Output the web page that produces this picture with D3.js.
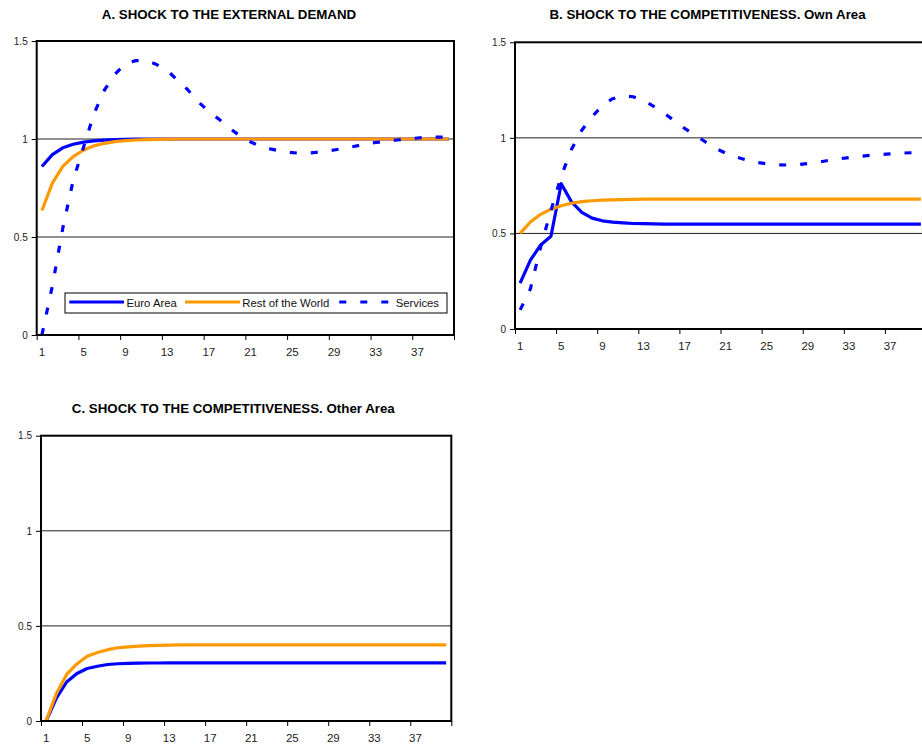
<!DOCTYPE html>
<html>
<head>
<meta charset="utf-8">
<script src="https://cdn.jsdelivr.net/npm/d3@7"></script>
<style>
  body { margin: 0; background: #fff; }
  svg { display: block; font-family: "Liberation Sans", Arial, sans-serif; }
</style>
</head>
<body>
<svg id="chart" width="922" height="747"></svg>
<script>
// periods on the category axis
const periods = d3.range(1, 41);
const xTickLabels = [1, 5, 9, 13, 17, 21, 25, 29, 33, 37];
const yTicks = [0, 0.5, 1, 1.5];

const seriesNames = ["Euro Area", "Rest of the World", "Services"];

// A. shock to the external demand
const aEuro = [0.86, 0.92, 0.955, 0.973, 0.984, 0.990, 0.994, 0.997, 0.998, 0.999,
  1, 1, 1, 1, 1, 1, 1, 1, 1, 1,
  1, 1, 1, 1, 1, 1, 1, 1, 1, 1,
  1, 1, 1, 1, 1, 1, 1, 1, 1, 1];
const aRow = [0.635, 0.775, 0.86, 0.91, 0.944, 0.965, 0.978, 0.987, 0.992, 0.995,
  0.997, 0.998, 0.999, 1, 1, 1, 1, 1, 1, 1,
  1, 1, 1, 1, 1, 1, 1, 1, 1, 1,
  1, 1, 1, 1, 1, 1, 1, 1, 1, 1];
const aServices = [0, 0.25, 0.545, 0.79, 0.96, 1.13, 1.25, 1.33, 1.385, 1.40,
  1.40, 1.38, 1.35, 1.30, 1.25, 1.19, 1.14, 1.10, 1.055, 1.015,
  0.985, 0.962, 0.948, 0.938, 0.93, 0.927, 0.93, 0.936, 0.944, 0.953,
  0.963, 0.974, 0.982, 0.988, 0.995, 1.0, 1.005, 1.009, 1.01, 1.008];

// B. shock to the competitiveness, own area
const bEuro = [0.24, 0.36, 0.44, 0.485, 0.76, 0.665, 0.61, 0.58, 0.566, 0.559,
  0.555, 0.552, 0.551, 0.55, 0.549, 0.549, 0.549, 0.549, 0.549, 0.549,
  0.549, 0.549, 0.549, 0.549, 0.549, 0.549, 0.549, 0.549, 0.549, 0.549,
  0.549, 0.549, 0.549, 0.549, 0.549, 0.549, 0.549, 0.549, 0.549, 0.549];
const bRow = [0.5, 0.56, 0.6, 0.627, 0.645, 0.658, 0.666, 0.671, 0.674, 0.676,
  0.677, 0.678, 0.679, 0.679, 0.679, 0.679, 0.679, 0.679, 0.679, 0.679,
  0.679, 0.679, 0.679, 0.679, 0.679, 0.679, 0.679, 0.679, 0.679, 0.679,
  0.679, 0.679, 0.679, 0.679, 0.679, 0.679, 0.679, 0.679, 0.679, 0.679];
const bServices = [0.1, 0.21, 0.43, 0.62, 0.80, 0.94, 1.04, 1.11, 1.17, 1.205,
  1.22, 1.215, 1.195, 1.165, 1.13, 1.09, 1.05, 1.015, 0.98, 0.946,
  0.92, 0.90, 0.885, 0.872, 0.864, 0.859, 0.858, 0.86, 0.866, 0.872,
  0.882, 0.89, 0.897, 0.903, 0.908, 0.912, 0.916, 0.92, 0.922, 0.924];

// C. shock to the competitiveness, other area
const cEuro = [0, 0.12, 0.205, 0.25, 0.276, 0.288, 0.297, 0.301, 0.303, 0.304,
  0.305, 0.305, 0.306, 0.306, 0.306, 0.306, 0.306, 0.306, 0.306, 0.306,
  0.306, 0.306, 0.306, 0.306, 0.306, 0.306, 0.306, 0.306, 0.306, 0.306,
  0.306, 0.306, 0.306, 0.306, 0.306, 0.306, 0.306, 0.306, 0.306, 0.306];
const cRow = [0, 0.145, 0.245, 0.30, 0.34, 0.36, 0.375, 0.385, 0.39, 0.394,
  0.396, 0.398, 0.399, 0.4, 0.4, 0.4, 0.4, 0.4, 0.4, 0.4,
  0.4, 0.4, 0.4, 0.4, 0.4, 0.4, 0.4, 0.4, 0.4, 0.4,
  0.4, 0.4, 0.4, 0.4, 0.4, 0.4, 0.4, 0.4, 0.4, 0.4];

const blue = "#0000ff";
const orange = "#ff9900";
const dash = "7,14";

const svg = d3.select("#chart");

const panels = [
  { title: "A. SHOCK TO THE EXTERNAL DEMAND", left: 36.7, right: 454, top: 41, bottom: 335, titleX: 229, titleY: 18.5,
    series: [aEuro, aRow, aServices], legend: true },
  { title: "B. SHOCK TO THE COMPETITIVENESS. Own Area", left: 515, right: 926, top: 42.3, bottom: 329, titleX: 707.5, titleY: 18.5,
    series: [bEuro, bRow, bServices], legend: false },
  { title: "C. SHOCK TO THE COMPETITIVENESS. Other Area", left: 41, right: 451.3, top: 435.7, bottom: 721, titleX: 233.3, titleY: 413,
    series: [cEuro, cRow], legend: false }
];

const styles = [
  { color: blue, dash: null },
  { color: orange, dash: null },
  { color: blue, dash: dash }
];

panels.forEach(drawPanel);

function drawPanel(p) {
  const x = d3.scaleBand().domain(periods).range([p.left, p.right]);
  const xEdge = d3.scaleLinear().domain([0, periods.length]).range([p.left, p.right]);
  const y = d3.scaleLinear().domain([0, 1.5]).range([p.bottom, p.top]);

  const g = svg.append("g");

  g.append("text")
    .attr("x", p.titleX)
    .attr("y", p.titleY)
    .attr("text-anchor", "middle")
    .attr("font-size", "13.3px")
    .attr("font-weight", "bold")
    .text(p.title);

  // gridlines at 0.5 and 1
  g.selectAll(".grid")
    .data([0.5, 1])
    .join("line")
    .attr("x1", p.left).attr("x2", p.right)
    .attr("y1", d => y(d)).attr("y2", d => y(d))
    .attr("stroke", "#222")
    .attr("stroke-width", 1);

  // y axis
  const yAxis = g.append("g")
    .attr("transform", `translate(${p.left},0)`)
    .call(d3.axisLeft(y).tickValues(yTicks).tickSize(5).tickPadding(4).tickFormat(d => d));
  yAxis.select(".domain").remove();
  yAxis.selectAll("text").attr("font-size", "10px").attr("fill", "#222").attr("font-family", null);

  // x axis: marks between categories, labels centered on categories
  const xMarks = g.append("g")
    .attr("transform", `translate(0,${p.bottom})`)
    .call(d3.axisBottom(xEdge).tickValues(d3.range(0, 41, 4)).tickSize(5).tickFormat(""));
  xMarks.select(".domain").remove();

  const xAxis = g.append("g")
    .attr("transform", `translate(0,${p.bottom})`)
    .call(d3.axisBottom(x).tickValues(xTickLabels).tickSize(0).tickPadding(12.5));
  xAxis.select(".domain").remove();
  xAxis.selectAll("text").attr("font-size", "11.5px").attr("fill", "#222").attr("font-family", null);

  const line = d3.line()
    .x((d, i) => x(periods[i]) + x.bandwidth() / 2)
    .y(d => y(d));

  p.series.forEach((s, i) => {
    g.append("path")
      .datum(s)
      .attr("d", line)
      .attr("fill", "none")
      .attr("stroke", styles[i].color)
      .attr("stroke-width", 3.2)
      .attr("stroke-dasharray", styles[i].dash)
      .attr("stroke-linejoin", "round");
  });

  // plot frame
  g.append("rect")
    .attr("x", p.left).attr("y", p.top)
    .attr("width", p.right - p.left).attr("height", p.bottom - p.top)
    .attr("fill", "none")
    .attr("stroke", "#000")
    .attr("stroke-width", 2);

  if (p.legend) drawLegend(g);
}

function drawLegend(g) {
  const lg = g.append("g").attr("transform", "translate(65,293)");
  lg.append("rect")
    .attr("width", 382).attr("height", 20)
    .attr("fill", "#fff").attr("stroke", "#000").attr("stroke-width", 1);

  const entries = [
    { x1: 4.3, x2: 59, tx: 61.5 },
    { x1: 120, x2: 175, tx: 177.3 },
    { x1: 274.3, x2: 325.7, tx: 330.7 }
  ];

  entries.forEach((e, i) => {
    lg.append("line")
      .attr("x1", e.x1).attr("x2", e.x2)
      .attr("y1", 9).attr("y2", 9)
      .attr("stroke", styles[i].color)
      .attr("stroke-width", 3.2)
      .attr("stroke-dasharray", styles[i].dash);
    lg.append("text")
      .attr("x", e.tx).attr("y", 14)
      .attr("font-size", "11.3px")
      .attr("fill", "#111")
      .text(seriesNames[i]);
  });
}
</script>
</body>
</html>
